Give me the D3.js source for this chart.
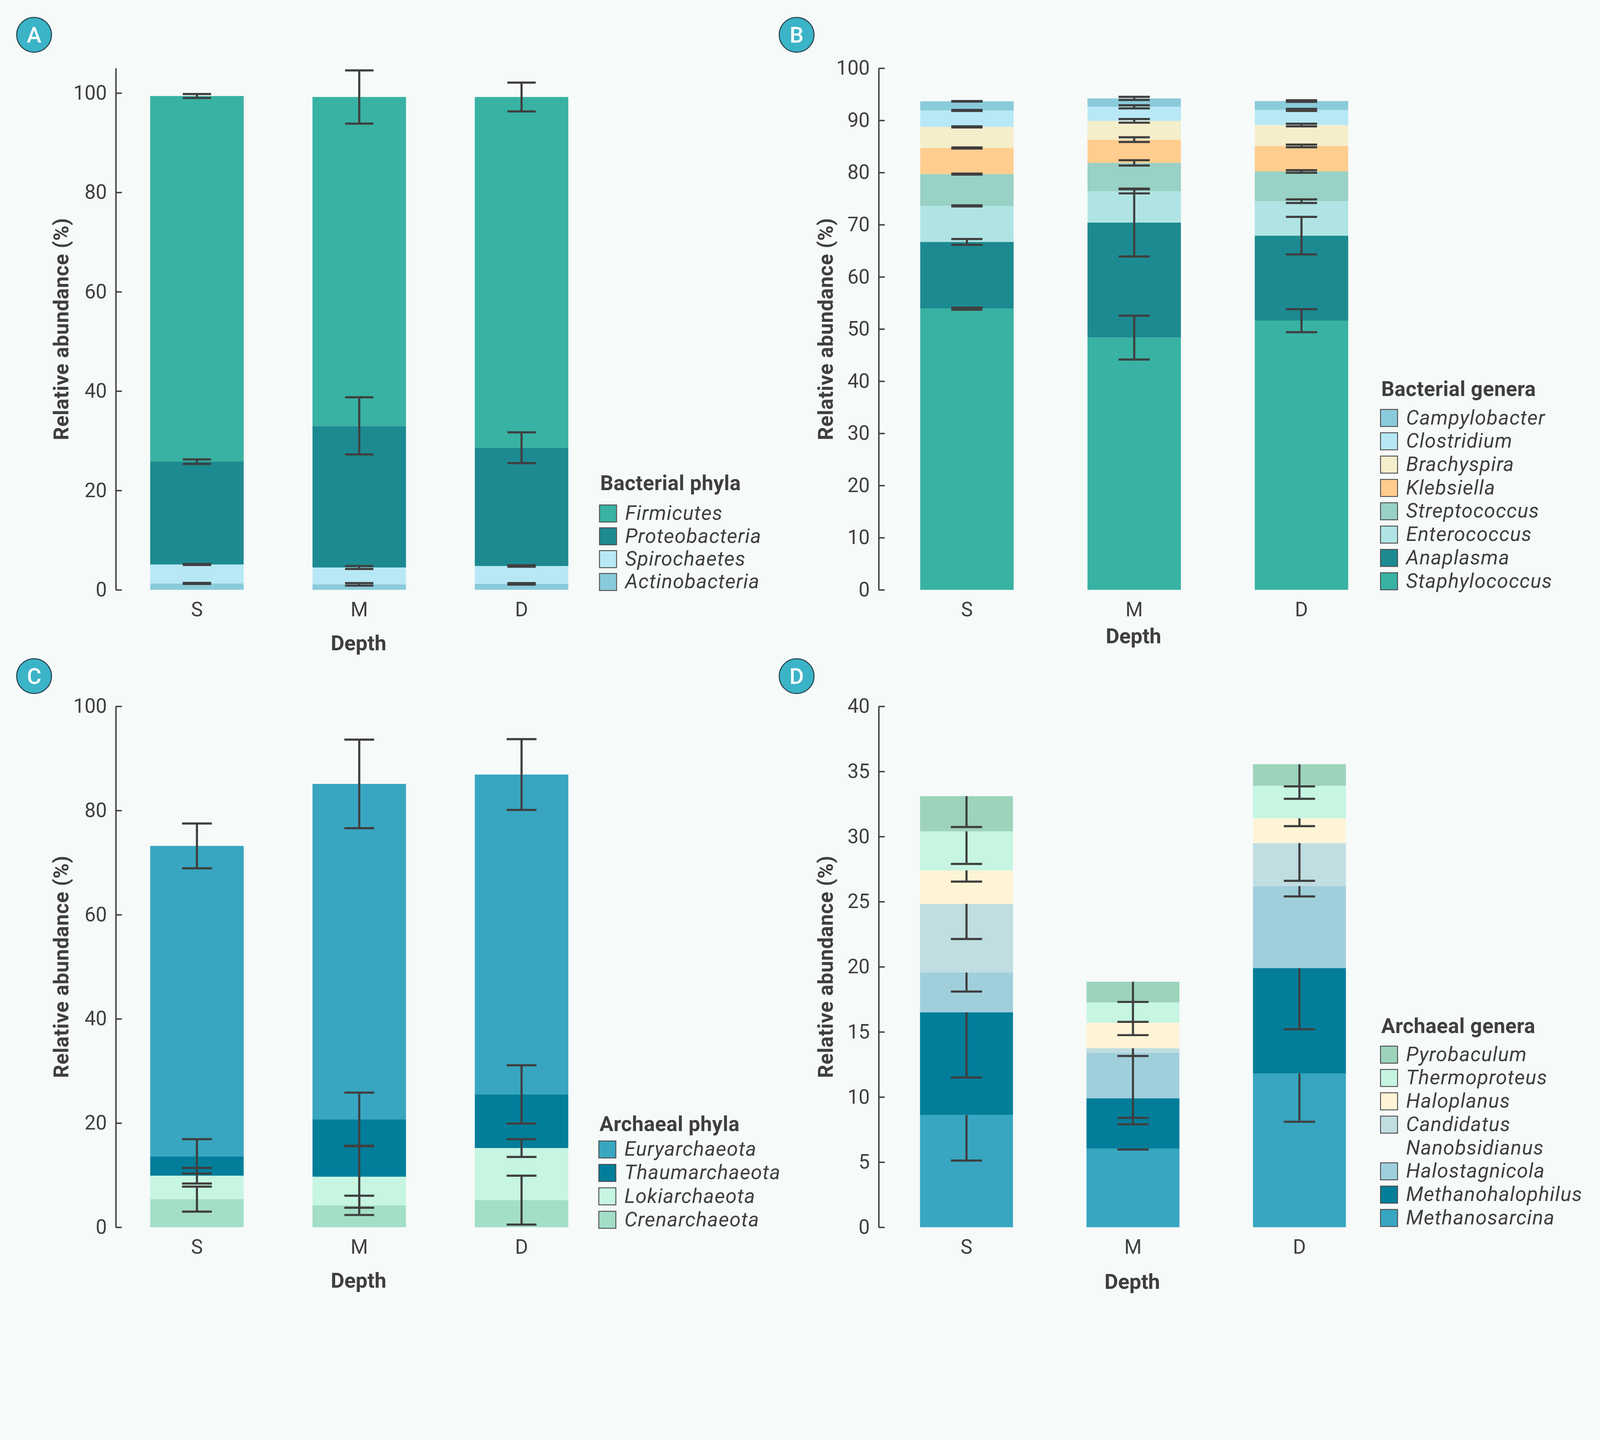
<!DOCTYPE html>
<html>
<head>
<meta charset="utf-8">
<script src="https://d3js.org/d3.v7.min.js"></script>
<style>
  html, body { margin: 0; padding: 0; background: #f6faf9; overflow: hidden; }
  svg { display: block; width: 100vw; height: 100vh; font-family: Roboto, "Noto Sans", sans-serif; }
</style>
</head>
<body>
<svg id="chart" viewBox="0 0 4505 3687" preserveAspectRatio="xMinYMin meet"></svg>
<script>
// depth categories (x axis)
const depths = ["S", "M", "D"];

// A - bacterial phyla, stacked bottom -> top, values per depth [S, M, D]
const bactPhyla = ["Actinobacteria", "Spirochaetes", "Proteobacteria", "Firmicutes"];
const bactPhylaMean = [
  [1.3, 1.1, 1.2],
  [3.8, 3.4, 3.6],
  [20.7, 28.5, 23.8],
  [73.6, 66.2, 70.6]
];
const bactPhylaSd = [
  [0.1, 0.25, 0.15],
  [0.1, 0.3, 0.15],
  [0.45, 5.75, 3.1],
  [0.4, 5.35, 2.9]
];
const bactPhylaTicks = [0, 20, 40, 60, 80, 100];

// B - bacterial genera
const bactGenera = ["Staphylococcus", "Anaplasma", "Enterococcus", "Streptococcus",
  "Klebsiella", "Brachyspira", "Clostridium", "Campylobacter"];
const bactGeneraMean = [
  [53.9, 48.35, 51.6],
  [12.8, 22.05, 16.3],
  [6.9, 6.0, 6.6],
  [6.1, 5.45, 5.7],
  [5.0, 4.45, 4.9],
  [4.05, 3.6, 4.0],
  [3.15, 2.7, 2.9],
  [1.75, 1.6, 1.7]
];
const bactGeneraSd = [
  [0.2, 4.2, 2.2],
  [0.55, 6.5, 3.6],
  [0.1, 0.4, 0.35],
  [0.1, 0.5, 0.25],
  [0.1, 0.45, 0.25],
  [0.1, 0.35, 0.25],
  [0.1, 0.3, 0.2],
  [0.05, 0.3, 0.15]
];
const bactGeneraTicks = [0, 10, 20, 30, 40, 50, 60, 70, 80, 90, 100];

// C - archaeal phyla
const archPhyla = ["Crenarchaeota", "Lokiarchaeota", "Thaumarchaeota", "Euryarchaeota"];
const archPhylaMean = [
  [5.4, 4.2, 5.2],
  [4.5, 5.5, 10.0],
  [3.7, 11.0, 10.3],
  [59.6, 64.4, 61.4]
];
const archPhylaSd = [
  [2.4, 1.85, 4.7],
  [1.5, 5.95, 1.7],
  [3.3, 5.15, 5.6],
  [4.3, 8.5, 6.8]
];
const archPhylaTicks = [0, 20, 40, 60, 80, 100];

// D - archaeal genera
const archGenera = ["Methanosarcina", "Methanohalophilus", "Halostagnicola",
  "Candidatus Nanobsidianus", "Haloplanus", "Thermoproteus", "Pyrobaculum"];
const archGeneraMean = [
  [8.62, 6.04, 11.8],
  [7.88, 3.86, 8.1],
  [3.06, 3.5, 6.3],
  [5.27, 0.35, 3.3],
  [2.57, 1.95, 1.9],
  [3.0, 1.57, 2.5],
  [2.7, 1.58, 1.65]
];
const archGeneraSd = [
  [3.5, 0.07, 3.7],
  [5.0, 2.0, 4.7],
  [1.46, 5.0, 0.8],
  [2.7, 0.6, 2.9],
  [0.86, 0.95, 0.6],
  [2.5, 1.5, 1.0],
  [2.37, 1.55, 1.7]
];
const archGeneraTicks = [0, 5, 10, 15, 20, 25, 30, 35, 40];

// fill colours, same order as the series
const bactPhylaColors = ["#8acbdb", "#b8e8f5", "#1d8a91", "#38b2a3"];
const bactGeneraColors = ["#38b2a3", "#1d8a91", "#b0e4e4", "#98d1c5",
  "#ffcd8e", "#f5eecb", "#b8e8f5", "#8acbdb"];
const archPhylaColors = ["#a3dec6", "#c6f5e2", "#037e9a", "#38a6c1"];
const archGeneraColors = ["#38a6c1", "#037e9a", "#a0cfdc", "#c0dde2",
  "#fff4d5", "#c6f5e2", "#9dd3bb"];

const ink = "#3f3f3f";
const svg = d3.select("#chart");

svg.append("rect")
  .attr("width", 4505).attr("height", 3687)
  .attr("fill", "#f6faf9");

const panels = [
  { badge: "A", series: bactPhyla, mean: bactPhylaMean, sd: bactPhylaSd, colors: bactPhylaColors,
    ticks: bactPhylaTicks, yMax: 105, title: "Bacterial phyla", errMode: "both", capW: 40,
    left: 326, right: 1697, padIn: 0.424, padOut: 0.212, top: 192, bottom: 1661,
    badgeX: 96, badgeY: 98, yTitleX: 193, depthY: 1831,
    legX: 1688, legTop: 1422, legTitleY: 1380, legRow: 64.3 },
  { badge: "B", series: bactGenera, mean: bactGeneraMean, sd: bactGeneraSd, colors: bactGeneraColors,
    ticks: bactGeneraTicks, yMax: 100, title: "Bacterial genera", errMode: "both", capW: 44,
    left: 2474, right: 3913, padIn: 0.4416, padOut: 0.2484, top: 192, bottom: 1661,
    badgeX: 2243, badgeY: 98, yTitleX: 2345, depthY: 1811,
    legX: 3887, legTop: 1153, legTitleY: 1115, legRow: 65.7 },
  { badge: "C", series: archPhyla, mean: archPhylaMean, sd: archPhylaSd, colors: archPhylaColors,
    ticks: archPhylaTicks, yMax: 100, title: "Archaeal phyla", errMode: "both", capW: 42,
    left: 326, right: 1697, padIn: 0.424, padOut: 0.212, top: 1989, bottom: 3456,
    badgeX: 96, badgeY: 1904, yTitleX: 193, depthY: 3626,
    legX: 1686, legTop: 3213, legTitleY: 3185, legRow: 66 },
  { badge: "D", series: archGenera, mean: archGeneraMean, sd: archGeneraSd, colors: archGeneraColors,
    ticks: archGeneraTicks, yMax: 40, title: "Archaeal genera", errMode: "lower", capW: 44,
    left: 2474, right: 3906, padIn: 0.4416, padOut: 0.2484, top: 1989, bottom: 3456,
    badgeX: 2243, badgeY: 1904, yTitleX: 2345, depthY: 3629,
    legX: 3887, legTop: 2946, legTitleY: 2909, legRow: 65.7 }
];

function drawPanel(p) {
  const g = svg.append("g");

  const x = d3.scaleBand()
    .domain(depths)
    .range([p.left, p.right])
    .paddingInner(p.padIn)
    .paddingOuter(p.padOut);

  const y = d3.scaleLinear()
    .domain([0, p.yMax])
    .range([p.bottom, p.top]);

  // one row per depth for d3.stack
  const rows = depths.map((d, j) => {
    const row = { depth: d };
    p.series.forEach((s, i) => { row[s] = p.mean[i][j]; });
    return row;
  });
  const stacked = d3.stack().keys(p.series)(rows);

  g.append("g")
    .selectAll("g")
    .data(stacked)
    .join("g")
    .attr("fill", (d, i) => p.colors[i])
    .selectAll("rect")
    .data((d) => d)
    .join("rect")
    .attr("x", (d) => x(d.data.depth))
    .attr("width", x.bandwidth())
    .attr("y", (d) => y(d[1]))
    .attr("height", (d) => y(d[0]) - y(d[1]));

  // error bars, centred on the top of every segment (panel D: lower half only)
  const errs = [];
  stacked.forEach((layer, i) => {
    layer.forEach((d, j) => {
      const sd = p.sd[i][j];
      errs.push({
        cx: x(d.data.depth) + x.bandwidth() / 2,
        hi: p.errMode === "both" ? d[1] + sd : d[1],
        lo: d[1] - sd
      });
    });
  });

  const eg = g.append("g")
    .attr("stroke", ink)
    .attr("stroke-width", 6)
    .attr("fill", "none");
  errs.forEach((e) => {
    eg.append("line")
      .attr("x1", e.cx).attr("x2", e.cx)
      .attr("y1", y(e.hi)).attr("y2", y(e.lo));
    eg.append("line")
      .attr("x1", e.cx - p.capW).attr("x2", e.cx + p.capW)
      .attr("y1", y(e.lo)).attr("y2", y(e.lo));
    if (p.errMode === "both") {
      eg.append("line")
        .attr("x1", e.cx - p.capW).attr("x2", e.cx + p.capW)
        .attr("y1", y(e.hi)).attr("y2", y(e.hi));
    }
  });

  // y axis, ticks pointing inward
  const yAxis = d3.axisLeft(y)
    .tickValues(p.ticks)
    .tickSize(-17)
    .tickSizeOuter(0)
    .tickPadding(25)
    .tickFormat(d3.format("d"));

  const ya = g.append("g")
    .attr("transform", `translate(${p.left},0)`)
    .call(yAxis);
  ya.select(".domain").attr("stroke", ink).attr("stroke-width", 4);
  ya.selectAll(".tick line").attr("stroke", ink).attr("stroke-width", 4);
  ya.selectAll(".tick text")
    .attr("fill", ink)
    .attr("font-size", 56)
    .attr("font-family", "Roboto, sans-serif");

  // x labels (no axis line)
  const xAxis = d3.axisBottom(x).tickSize(0).tickPadding(35);
  const xa = g.append("g")
    .attr("transform", `translate(0,${p.bottom})`)
    .call(xAxis);
  xa.select(".domain").remove();
  xa.selectAll(".tick text")
    .attr("fill", ink)
    .attr("font-size", 56)
    .attr("font-family", "Roboto, sans-serif");

  g.append("text")
    .attr("x", (p.left + p.right) / 2 - 2)
    .attr("y", p.depthY)
    .attr("text-anchor", "middle")
    .attr("font-size", 59)
    .attr("font-weight", "bold")
    .attr("fill", ink)
    .text("Depth");

  g.append("text")
    .attr("transform", `translate(${p.yTitleX},${(p.top + p.bottom) / 2}) rotate(-90)`)
    .attr("text-anchor", "middle")
    .attr("font-size", 58)
    .attr("letter-spacing", 0.8)
    .attr("font-weight", "bold")
    .attr("fill", ink)
    .text("Relative abundance (%)");

  // panel badge
  g.append("circle")
    .attr("cx", p.badgeX).attr("cy", p.badgeY).attr("r", 49)
    .attr("fill", "#3bb4c7")
    .attr("stroke", "#2b4b55")
    .attr("stroke-width", 3);
  g.append("text")
    .attr("x", p.badgeX).attr("y", p.badgeY + 22)
    .attr("text-anchor", "middle")
    .attr("font-size", 62)
    .attr("font-weight", 500)
    .attr("fill", "#ffffff")
    .text(p.badge);

  // legend, listed top of stack first
  const lg = g.append("g");
  lg.append("text")
    .attr("x", p.legX + 2)
    .attr("y", p.legTitleY)
    .attr("font-size", 58)
    .attr("letter-spacing", 0.6)
    .attr("font-weight", "bold")
    .attr("fill", ink)
    .text(p.title);

  const order = p.series.map((s, i) => i).reverse();
  let row = 0;
  order.forEach((i) => {
    const top = p.legTop + row * p.legRow;
    lg.append("rect")
      .attr("x", p.legX).attr("y", top)
      .attr("width", 48).attr("height", 48)
      .attr("fill", p.colors[i])
      .attr("stroke", "#4a4a4a")
      .attr("stroke-width", 2.5);
    const lines = p.series[i].split(" ");
    const t = lg.append("text")
      .attr("font-size", 57)
      .attr("letter-spacing", 1.5)
      .attr("font-style", "italic")
      .attr("fill", ink);
    lines.forEach((ln, k) => {
      t.append("tspan")
        .attr("x", p.legX + 72)
        .attr("y", top + 42 + k * p.legRow)
        .text(ln);
    });
    row += lines.length;
  });
}

panels.forEach(drawPanel);
</script>
</body>
</html>
